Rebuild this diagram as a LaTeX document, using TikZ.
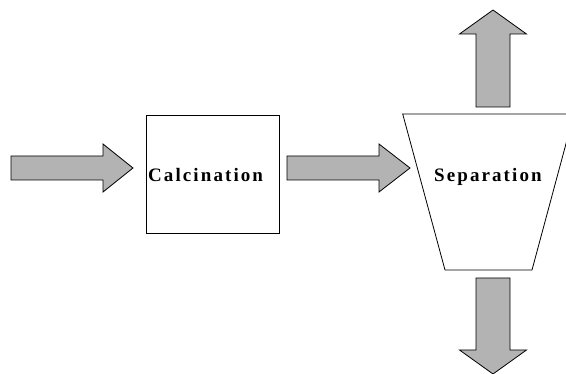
\documentclass[tikz,border=0pt]{standalone}
\usepackage{fontspec}
\setmainfont{Liberation Serif}
\newfontfamily\tagfont[LetterSpace=11]{Liberation Serif}
\usetikzlibrary{calc}
\definecolor{flowgray}{RGB}{179,179,179}
\tikzset{
  unit/.style={draw,line width=.8pt,fill=white},
  tag/.style={font=\tagfont\bfseries\fontsize{19}{21}\selectfont,inner sep=0pt},
  fatarrow/.style args={#1/#2/#3}{draw,line width=.8pt,fill=flowgray,line join=miter,
    to path={let \p1=($(\tikztotarget)!#3pt!(\tikztostart)$) in
      -- ($(\tikztostart)!#1pt!90:(\tikztotarget)$)
      -- ($(\p1)!#1pt!90:(\tikztotarget)$)
      -- ($(\p1)!#2pt!90:(\tikztotarget)$)
      -- (\tikztotarget)
      -- ($(\p1)!#2pt!-90:(\tikztotarget)$)
      -- ($(\p1)!#1pt!-90:(\tikztotarget)$)
      -- ($(\tikztostart)!#1pt!-90:(\tikztotarget)$)
      -- cycle}}
}
\begin{document}
\begin{tikzpicture}[x=1pt,y=-1pt]
  \useasboundingbox (0,0) rectangle (566,374);
  % calcination
  \node[unit,minimum width=133pt,minimum height=118pt] (calc) at (212.5,174) {};
  \node[tag,anchor=base west] (calc-text) at (148,182) {Calcination};
  % separation, clipped by the page on the right
  \draw[unit] (402.7,114) coordinate (sep-nw) -- (574,114) coordinate (sep-ne)
        -- (532,270) coordinate (sep-se) -- (445,270) coordinate (sep-sw) -- cycle;
  \node[tag,anchor=base west] (sep-text) at (434,182) {Separation};
  % streams
  \coordinate (feed) at (11,168);
  \coordinate (calc-in) at (133,168);
  \coordinate (calc-out) at (287,168);
  \coordinate (sep-in) at (410,168);
  \coordinate (top-out) at (493,107);
  \coordinate (top-end) at (493,10);
  \coordinate (bot-out) at (493,278);
  \coordinate (bot-end) at (493,374);
  \draw[fatarrow=12/24/30] (feed) to (calc-in);
  \draw[fatarrow=12/24/31] (calc-out) to (sep-in);
  \draw[fatarrow=17/33.5/24] (top-out) to (top-end);
  \draw[fatarrow=17/33.5/24] (bot-out) to (bot-end);
\end{tikzpicture}
\end{document}
